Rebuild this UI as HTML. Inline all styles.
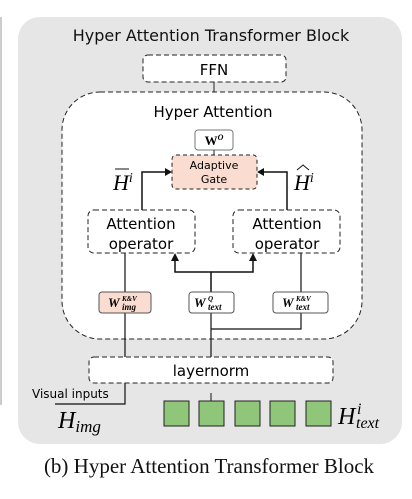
<!DOCTYPE html>
<html><head><style>
body{margin:0;background:#fff;}
</style></head><body>
<svg width="412" height="494" xmlns="http://www.w3.org/2000/svg">
<g font-family="DejaVu Sans, Liberation Sans, sans-serif">
<line x1="1" y1="17" x2="1" y2="405" stroke="#ccc" stroke-width="2"/>
<rect x="18" y="17" width="384" height="427" rx="22" fill="#e6e6e6"/>
<text x="211" y="41" font-size="16" text-anchor="middle" fill="#111">Hyper Attention Transformer Block</text>
<rect x="143" y="55" width="143" height="27" rx="5" fill="#fff" stroke="#222" stroke-dasharray="5,3"/>
<text x="214" y="75" font-size="15" text-anchor="middle">FFN</text>
<line x1="214" y1="82" x2="214" y2="92" stroke="#222"/>
<rect x="62" y="92" width="300" height="247" rx="38" fill="#fff" stroke="#222" stroke-dasharray="5,3"/>
<text x="213" y="117" font-size="15" text-anchor="middle">Hyper Attention</text>
<rect x="195" y="130" width="38" height="20" rx="3" fill="#fff" stroke="#777"/>
<text x="214" y="145" font-size="13" font-weight="bold" text-anchor="middle" font-family="Liberation Serif, serif">W<tspan font-size="8" dy="-5" font-style="italic">O</tspan></text>
<line x1="214" y1="150" x2="214" y2="155" stroke="#222"/>
<rect x="172" y="155" width="85" height="34" rx="4" fill="#fadcd0" stroke="#222" stroke-dasharray="4,3"/>
<text x="214" y="169" font-size="11" text-anchor="middle">Adaptive</text>
<text x="214" y="183" font-size="11" text-anchor="middle">Gate</text>
<polyline points="142,211 142,172 168,172" fill="none" stroke="#111" stroke-width="1.5"/>
<polygon points="172,172 165,168 165,176" fill="#111"/>
<polyline points="287,211 287,172 261,172" fill="none" stroke="#111" stroke-width="1.5"/>
<polygon points="257,172 264,168 264,176" fill="#111"/>
<text x="113" y="190" font-size="22" font-style="italic" font-family="Liberation Serif, serif">H<tspan font-size="14" dy="-8">i</tspan></text>
<line x1="115" y1="169" x2="129" y2="169" stroke="#111"/>
<text x="294" y="190" font-size="22" font-style="italic" font-family="Liberation Serif, serif">H<tspan font-size="14" dy="-8">i</tspan></text>
<polyline points="297,170 303,165 309,170" fill="none" stroke="#111"/>
<rect x="88" y="210" width="107" height="43" rx="6" fill="#fff" stroke="#222" stroke-dasharray="5,3"/>
<text x="141" y="229" font-size="15" text-anchor="middle">Attention</text>
<text x="141" y="249" font-size="15" text-anchor="middle">operator</text>
<rect x="233" y="210" width="107" height="43" rx="6" fill="#fff" stroke="#222" stroke-dasharray="5,3"/>
<text x="287" y="229" font-size="15" text-anchor="middle">Attention</text>
<text x="287" y="249" font-size="15" text-anchor="middle">operator</text>
<polyline points="211,292 211,272 175,272 175,259" fill="none" stroke="#111" stroke-width="1.5"/>
<polyline points="211,272 253,272 253,259" fill="none" stroke="#111" stroke-width="1.5"/>
<polygon points="175,253 171,261 179,261" fill="#111"/>
<polygon points="253,253 249,261 257,261" fill="#111"/>
<line x1="125" y1="253" x2="125" y2="357" stroke="#111" stroke-width="1.2"/>
<line x1="211" y1="313" x2="211" y2="357" stroke="#111" stroke-width="1.2"/>
<polyline points="211,329 301,329 301,253" fill="none" stroke="#111" stroke-width="1.2"/>
<rect x="99" y="292" width="52" height="21" rx="3" fill="#fadcd0" stroke="#555"/>
<text x="108" y="307" font-size="13" font-weight="bold" font-style="italic" font-family="Liberation Serif, serif">W<tspan font-size="7" x="122" dy="-6">K&amp;V</tspan><tspan font-size="9" x="122" dy="9">img</tspan></text>
<rect x="189" y="292" width="45" height="21" rx="3" fill="#fff" stroke="#555"/>
<text x="194" y="307" font-size="13" font-weight="bold" font-style="italic" font-family="Liberation Serif, serif">W<tspan font-size="7" x="208" dy="-6">Q</tspan><tspan font-size="9" x="208" dy="9">text</tspan></text>
<rect x="273" y="292" width="55" height="21" rx="3" fill="#fff" stroke="#555"/>
<text x="282" y="307" font-size="13" font-weight="bold" font-style="italic" font-family="Liberation Serif, serif">W<tspan font-size="7" x="296" dy="-6">K&amp;V</tspan><tspan font-size="9" x="296" dy="9">text</tspan></text>
<rect x="89" y="357" width="244" height="26" rx="5" fill="#fff" stroke="#222" stroke-dasharray="5,3"/>
<text x="211" y="376" font-size="15" text-anchor="middle">layernorm</text>
<polyline points="125,383 125,404 55,404" fill="none" stroke="#111" stroke-width="1.2"/>
<line x1="211" y1="393" x2="211" y2="401" stroke="#111"/>
<text x="32" y="398" font-size="12">Visual inputs</text>
<text x="58" y="428" font-size="24" font-style="italic" font-family="Liberation Serif, serif">H<tspan font-size="17" dy="4">img</tspan></text>
<g fill="#8fc67a" stroke="#222">
<rect x="164" y="401" width="25" height="25"/><rect x="199" y="401" width="25" height="25"/><rect x="235" y="401" width="25" height="25"/><rect x="270" y="401" width="25" height="25"/><rect x="306" y="401" width="25" height="25"/>
</g>
<text x="338" y="424" font-size="24" font-style="italic" font-family="Liberation Serif, serif">H<tspan font-size="16" x="357" dy="-10">i</tspan><tspan font-size="16" x="356" dy="14">text</tspan></text>
<text x="209" y="473" font-size="21" text-anchor="middle" font-family="Liberation Serif, serif" fill="#111">(b) Hyper Attention Transformer Block</text>
</g>
</svg>
</body></html>
